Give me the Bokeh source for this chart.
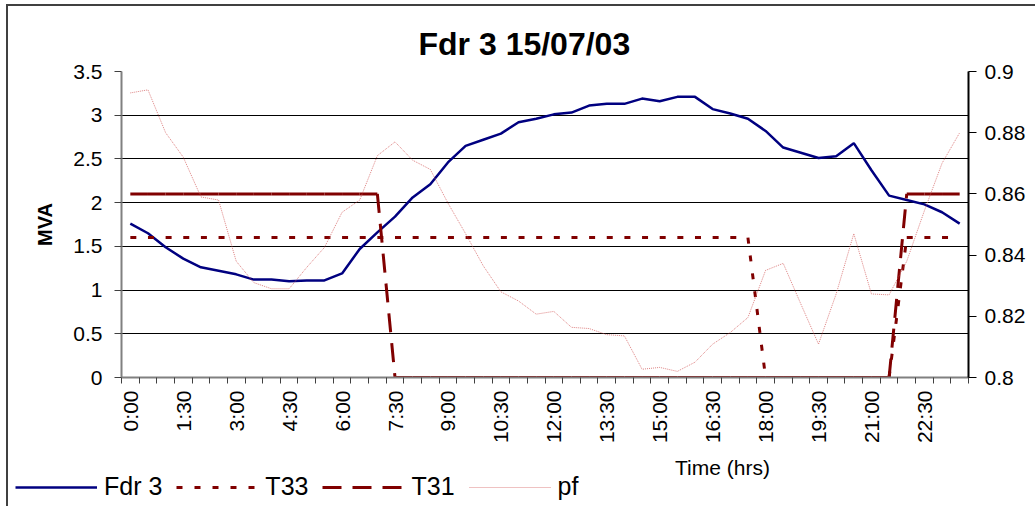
import math
from bokeh.plotting import figure
from bokeh.layouts import column
from bokeh.models import (ColumnDataSource, Range1d, LinearAxis, FixedTicker,
                          CustomJSTickFormatter, Legend, LegendItem, Label, Grid)
from bokeh.embed import file_html
from bokeh.resources import INLINE

# ---------------- data ----------------
times = ["0:00", "0:30", "1:00", "1:30", "2:00", "2:30", "3:00", "3:30",
         "4:00", "4:30", "5:00", "5:30", "6:00", "6:30", "7:00", "7:30",
         "8:00", "8:30", "9:00", "9:30", "10:00", "10:30", "11:00", "11:30",
         "12:00", "12:30", "13:00", "13:30", "14:00", "14:30", "15:00", "15:30",
         "16:00", "16:30", "17:00", "17:30", "18:00", "18:30", "19:00", "19:30",
         "20:00", "20:30", "21:00", "21:30", "22:00", "22:30", "23:00", "23:30"]

fdr3 = [1.76, 1.65, 1.49, 1.36, 1.26, 1.22, 1.18, 1.12, 1.12, 1.10, 1.11, 1.11,
        1.19, 1.47, 1.66, 1.84, 2.06, 2.21, 2.46, 2.65, 2.72, 2.79, 2.92, 2.96,
        3.01, 3.03, 3.11, 3.13, 3.13, 3.19, 3.16, 3.21, 3.21, 3.07, 3.02, 2.96,
        2.82, 2.63, 2.57, 2.51, 2.53, 2.68, 2.37, 2.08, 2.03, 1.98, 1.89, 1.76]

t33 = [1.6, 1.6, 1.6, 1.6, 1.6, 1.6, 1.6, 1.6, 1.6, 1.6, 1.6, 1.6,
       1.6, 1.6, 1.6, 1.6, 1.6, 1.6, 1.6, 1.6, 1.6, 1.6, 1.6, 1.6,
       1.6, 1.6, 1.6, 1.6, 1.6, 1.6, 1.6, 1.6, 1.6, 1.6, 1.6, 1.6,
       0, 0, 0, 0, 0, 0, 0, 0, 1.6, 1.6, 1.6, 1.6]

t31 = [2.1, 2.1, 2.1, 2.1, 2.1, 2.1, 2.1, 2.1, 2.1, 2.1, 2.1, 2.1,
       2.1, 2.1, 2.1, 0, 0, 0, 0, 0, 0, 0, 0, 0,
       0, 0, 0, 0, 0, 0, 0, 0, 0, 0, 0, 0,
       0, 0, 0, 0, 0, 0, 0, 0, 2.1, 2.1, 2.1, 2.1]

pf = [0.893, 0.894, 0.880, 0.872, 0.859, 0.858, 0.838, 0.831, 0.829, 0.829, 0.836, 0.8425,
      0.854, 0.858, 0.8725, 0.877, 0.871, 0.868, 0.857, 0.847, 0.8365, 0.828, 0.825, 0.8207,
      0.8216, 0.8164, 0.816, 0.814, 0.8136, 0.8027, 0.8033, 0.802, 0.805, 0.8109, 0.8147, 0.8196,
      0.835, 0.8373, 0.824, 0.8109, 0.8273, 0.847, 0.8273, 0.827, 0.838, 0.8545, 0.870, 0.880]

mva_ticks = [0, 0.5, 1, 1.5, 2, 2.5, 3, 3.5]
pf_ticks = [0.8, 0.82, 0.84, 0.86, 0.88, 0.9]
label_step = 3

title_text = "Fdr 3 15/07/03"
y_label = "MVA"
x_label = "Time (hrs)"

# ---------------- main figure ----------------
FONT = "Liberation Sans"
n = len(times)
idx = list(range(n))
OFF_X, OFF_Y = 8, 6   # space taken by the chart-area border (margin + 2px line)
LEFT = 121 - OFF_X

p = figure(frame_width=847, frame_height=306, output_backend="svg", toolbar_location=None,
           x_range=Range1d(-0.5, n - 0.5), y_range=Range1d(mva_ticks[0], mva_ticks[-1]),
           x_axis_type=None, y_axis_type=None,
           min_border_left=LEFT, min_border_right=5,
           min_border_top=71 - OFF_Y, min_border_bottom=73)
p.extra_y_ranges = {"pf": Range1d(pf_ticks[0], pf_ticks[-1])}
p.outline_line_color = None
p.background_fill_color = "white"
p.border_fill_color = "white"

p.title.text = title_text
p.title.text_font = FONT
p.title.text_font_size = "32px"
p.title.text_font_style = "bold"
p.title.text_color = "black"
p.title.align = "left"
p.title.offset = 297
p.title.standoff = 19

# left axis
yax = LinearAxis(ticker=FixedTicker(ticks=mva_ticks),
                 formatter=CustomJSTickFormatter(code="return String(Math.round(tick*1000)/1000);"))
yax.axis_line_color = "#808080"
yax.axis_line_width = 2
yax.major_tick_line_color = "#404040"
yax.major_tick_out = 7
yax.major_tick_in = 0
yax.minor_tick_line_color = None
yax.major_label_standoff = 12
yax.major_label_text_font = FONT
yax.major_label_text_font_size = "21px"
yax.major_label_text_color = "black"
yax.axis_label = y_label
yax.axis_label_text_font = FONT
yax.axis_label_text_font_size = "20px"
yax.axis_label_text_font_style = "bold"
yax.axis_label_text_color = "black"
yax.axis_label_standoff = 14
p.add_layout(yax, "left")

# right axis
rax = LinearAxis(y_range_name="pf", ticker=FixedTicker(ticks=pf_ticks),
                 formatter=CustomJSTickFormatter(code="return String(Math.round(tick*1000)/1000);"))
rax.axis_line_color = "black"
rax.axis_line_width = 2
rax.major_tick_line_color = "black"
rax.major_tick_out = 8
rax.major_tick_in = 0
rax.minor_tick_line_color = None
rax.major_label_standoff = 8
rax.major_label_text_font = FONT
rax.major_label_text_font_size = "21px"
rax.major_label_text_color = "black"
p.add_layout(rax, "right")

# bottom axis
xax = LinearAxis(ticker=FixedTicker(ticks=idx[::label_step],
                                    minor_ticks=[k - 0.5 for k in range(n + 1)]),
                 formatter=CustomJSTickFormatter(args=dict(labels=times),
                                                 code="const i = Math.round(tick); return labels[i] || '';"))
xax.axis_line_color = "#808080"
xax.axis_line_width = 2
xax.major_tick_line_color = None
xax.major_tick_out = 6
xax.major_tick_in = 0
xax.minor_tick_line_color = "#404040"
xax.minor_tick_out = 6
xax.minor_tick_in = 0
xax.major_label_orientation = math.pi / 2
xax.major_label_standoff = 7
xax.major_label_text_font = FONT
xax.major_label_text_font_size = "21px"
xax.major_label_text_color = "black"
p.add_layout(xax, "below")

p.add_layout(Grid(dimension=1, ticker=FixedTicker(ticks=mva_ticks),
                  grid_line_color="black", grid_line_width=1))

# ---------------- glyphs ----------------
src = ColumnDataSource(dict(x=idx, fdr3=fdr3, pf=pf))
seg = ColumnDataSource(dict(x0=idx[:-1], x1=idx[1:],
                            t33a=t33[:-1], t33b=t33[1:],
                            t31a=t31[:-1], t31b=t31[1:]))

STY_FDR = dict(line_color="#000080", line_width=2.5)
STY_T33 = dict(line_color="#800000", line_width=3, line_dash="6 12")
STY_T31 = dict(line_color="#800000", line_width=3, line_dash="19 11")
STY_PF = dict(line_color="#D05050", line_width=1, line_dash="1 1", line_alpha=0.7)

p.line("x", "fdr3", source=src, **STY_FDR)
p.segment(x0="x0", y0="t33a", x1="x1", y1="t33b", source=seg, **STY_T33)
p.segment(x0="x0", y0="t31a", x1="x1", y1="t31b", source=seg, **STY_T31)
p.line("x", "pf", source=src, y_range_name="pf", **STY_PF)

# ---------------- strip below: axis title + legend ----------------
strip_h = 56
pw = 1035 - OFF_X
q = figure(frame_width=pw, frame_height=strip_h, output_backend="svg", toolbar_location=None,
           x_range=Range1d(0, pw), y_range=Range1d(0, strip_h),
           x_axis_type=None, y_axis_type=None,
           min_border_left=0, min_border_right=0, min_border_top=0, min_border_bottom=0)
q.outline_line_color = None
q.xgrid.visible = False
q.ygrid.visible = False
q.extra_y_ranges = {"pf": Range1d(pf_ticks[0], pf_ticks[-1])}

l_fdr = q.line("x", "fdr3", source=src, visible=False, **STY_FDR)
l_t33 = q.segment(x0="x0", y0="t33a", x1="x1", y1="t33b", source=seg, visible=False, **STY_T33)
l_t31 = q.segment(x0="x0", y0="t31a", x1="x1", y1="t31b", source=seg, visible=False, **STY_T31)
l_pf = q.line("x", "pf", source=src, y_range_name="pf", visible=False, **STY_PF)

# label sits right of centre, as in the original chart
q.add_layout(Label(x=722 - OFF_X - LEFT, y=39, x_units="screen", text=x_label,
                   text_align="center", text_baseline="middle",
                   text_font=FONT, text_font_size="21px", text_color="black"))

legend = Legend(items=[LegendItem(label="Fdr 3", renderers=[l_fdr]),
                       LegendItem(label="T33", renderers=[l_t33]),
                       LegendItem(label="T31", renderers=[l_t31]),
                       LegendItem(label="pf", renderers=[l_pf])],
                orientation="horizontal", location=(15 - OFF_X, 5))
legend.glyph_width = 82
legend.glyph_height = 20
legend.label_standoff = 7
legend.spacing = 14
legend.padding = 0
legend.margin = 0
legend.border_line_color = None
legend.background_fill_alpha = 0
legend.inactive_fill_alpha = 0
legend.label_text_font = FONT
legend.label_text_font_size = "25px"
legend.label_text_color = "black"
q.add_layout(legend)

layout = column(p, q, spacing=0,
                styles={"margin-left": "6px", "margin-top": "4px",
                        "border-left": "2px solid #404040",
                        "border-top": "2px solid #404040"})
open("out.html", "w").write(file_html(layout, INLINE))
